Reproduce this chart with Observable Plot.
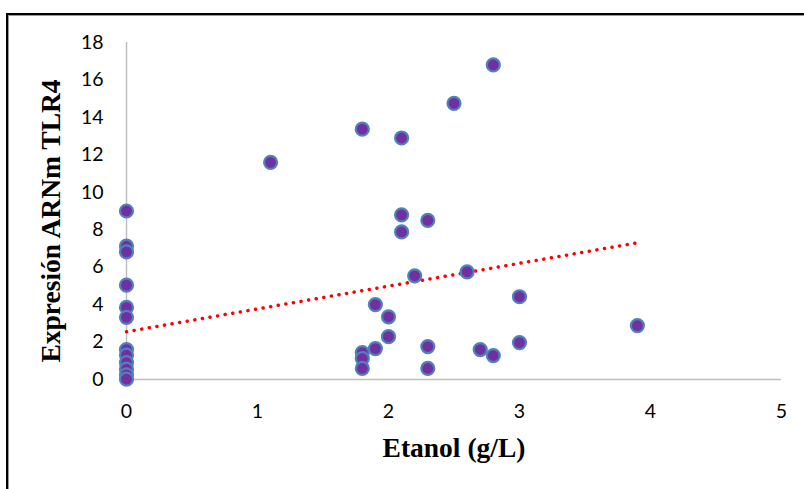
<!DOCTYPE html>
<html>
<head>
<meta charset="utf-8">
<script src="https://cdn.jsdelivr.net/npm/d3@7"></script>
<script src="https://cdn.jsdelivr.net/npm/@observablehq/plot@0.6"></script>
<style>
  html, body { margin: 0; padding: 0; background: #fff; }
  #wrap { position: relative; width: 804px; height: 489px; overflow: hidden; }
  #frame { position: absolute; left: 6px; top: 13px; width: 900px; height: 600px;
           border-left: 2px solid #000; border-top: 2px solid #000;
           box-shadow: inset 1px 1px 0 #999; pointer-events: none; }
  #chart { position: absolute; left: 0; top: 0; }
</style>
</head>
<body>
<div id="wrap"><div id="chart"></div><div id="frame"></div></div>
<script>
// Data
const etanol = [0, 0, 0, 0, 0, 0, 0, 0, 0, 0, 0, 0,
                1.1, 1.8, 2.1, 2.5, 2.8, 2.1, 2.1, 2.3, 2.2, 2.6,
                1.9, 2.0, 2.0, 1.8, 1.8, 1.8, 1.9, 2.3, 2.3, 2.7, 2.8,
                3.0, 3.0, 3.9];
const tlr4 = [9.0, 7.12, 6.82, 5.04, 3.85, 3.32, 1.6, 1.3, 0.9, 0.55, 0.25, 0.02,
              11.6, 13.37, 12.9, 14.75, 16.8, 8.79, 7.88, 8.5, 5.54, 5.75,
              4.0, 3.35, 2.29, 1.44, 1.12, 0.59, 1.65, 1.76, 0.59, 1.6, 1.28,
              4.42, 1.97, 2.88];
const trendX = [0, 3.9];
const trendY = [2.55, 7.3];
const xTicks = [0, 1, 2, 3, 4, 5];
const yTicks = [0, 2, 4, 6, 8, 10, 12, 14, 16, 18];

const points = etanol.map((x, i) => ({x, y: tlr4[i]}));
const trend = trendX.map((x, i) => ({x, y: trendY[i]}));

const tickFont = "Lato, 'Open Sans', sans-serif";
const titleFont = "'Liberation Serif', 'DejaVu Serif', serif";

const chart = Plot.plot({
  width: 804,
  height: 489,
  marginLeft: 126,
  marginRight: 23,
  marginTop: 42,
  marginBottom: 110,
  style: {background: "transparent", overflow: "visible"},
  x: {domain: [0, 5]},
  y: {domain: [0, 18]},
  marks: [
    Plot.ruleX([0], {stroke: "#bfbfbf", strokeWidth: 1.5}),
    Plot.ruleY([0], {stroke: "#bfbfbf", strokeWidth: 1.5}),
    Plot.axisX({ticks: xTicks, tickSize: 0, tickPadding: 25, label: null, tickFormat: d => String(d),
                fontSize: 19.5, fontFamily: tickFont, fill: "#000"}),
    Plot.axisY({ticks: yTicks, tickSize: 0, tickPadding: 23, label: null, tickFormat: d => String(d),
                fontSize: 19.5, fontFamily: tickFont, fill: "#000"}),
    Plot.line(trend, {x: "x", y: "y", stroke: "#ff0000", strokeWidth: 3.5,
                      strokeDasharray: "0.1,7.6", strokeLinecap: "round"}),
    Plot.dot(points, {x: "x", y: "y", r: 6.5, fill: "#7030a0",
                      stroke: "#4f81bd", strokeWidth: 2.2}),
    Plot.text(["Expresión ARNm TLR4"], {frameAnchor: "left", dx: -75, dy: 10, rotate: -90, textAnchor: "middle",
              fontSize: 27.5, fontWeight: "bold", fontFamily: titleFont, fill: "#000"}),
    Plot.text(["Etanol (g/L)"], {frameAnchor: "bottom", dy: 77, textAnchor: "middle",
              fontSize: 27.5, fontWeight: "bold", fontFamily: titleFont, fill: "#000"})
  ]
});
document.getElementById("chart").appendChild(chart);
</script>
</body>
</html>
